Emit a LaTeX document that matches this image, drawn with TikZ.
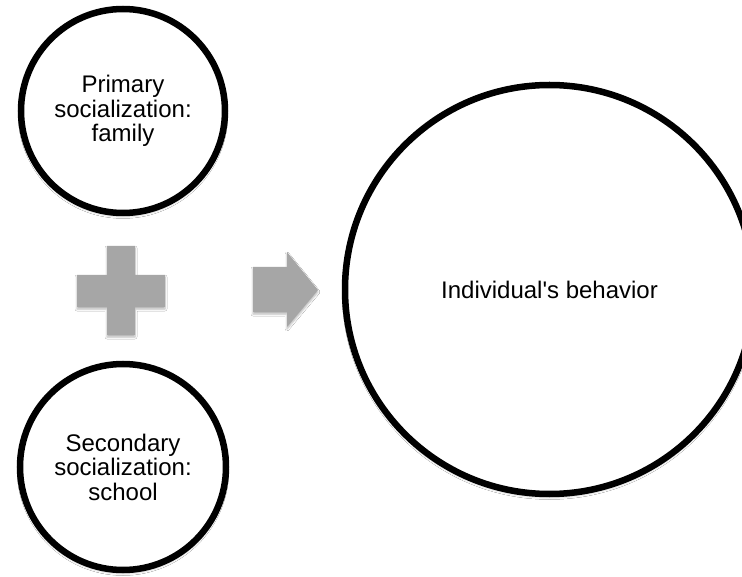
\documentclass[tikz,border=0pt]{standalone}
\usepackage{fontspec}
\setmainfont{Liberation Sans}[Ligatures=TeXOff]
\usetikzlibrary{shadows.blur}
\definecolor{shapegray}{HTML}{A6A6A6}
\tikzset{
  ring/.style={circle, draw=black, line width=6.5pt, fill=white, align=center, inner sep=0pt,
    font=\fontsize{24}{24.5}\selectfont,
    blur shadow={shadow xshift=0pt, shadow yshift=-2.5pt, shadow blur radius=3pt, shadow opacity=35}},
  grayshape/.style={fill=shapegray, draw=none,
    blur shadow={shadow xshift=0pt, shadow yshift=-2pt, shadow blur radius=2pt, shadow opacity=30}}
}
\begin{document}
\begin{tikzpicture}[x=1pt,y=-1pt]
\useasboundingbox (0,0) rectangle (742,577);
\clip (0,0) rectangle (742,577);
\fill[white] (0,0) rectangle (742,577);
\node[ring, minimum size=204pt] (family) at (123,111) {Primary\\socialization:\\family};
\node[ring, minimum size=206pt] (school) at (123,467) {Secondary\\socialization:\\school};
\node[ring, minimum size=409pt] (behavior) at (549.5,289.5) {Individual's behavior};
% plus sign
\path[grayshape] (107,246) -- (135,246) -- (135,275) -- (165,275) -- (165,307) -- (135,307)
  -- (135,335) -- (107,335) -- (107,307) -- (77,307) -- (77,275) -- (107,275) -- cycle;
% arrow
\path[grayshape] (253,267) -- (287,267) -- (287,252) -- (318,290) -- (287,327) -- (287,312)
  -- (253,312) -- cycle;
\end{tikzpicture}
\end{document}
